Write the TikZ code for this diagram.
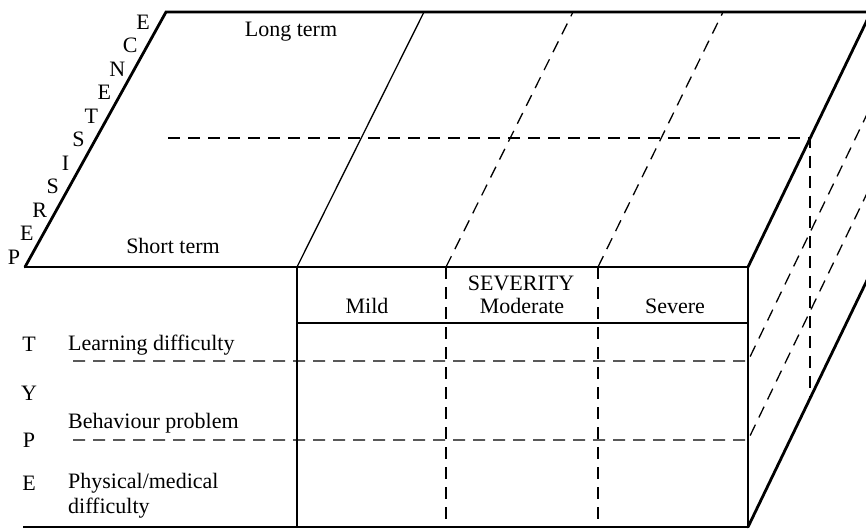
\documentclass[tikz,border=0pt]{standalone}
\usepackage{fontspec}
\setmainfont{Liberation Serif}
\usetikzlibrary{positioning}

\begin{document}
\begin{tikzpicture}[x=1pt, y=-1pt,
		txt/.style={font=\fontsize{22}{25}\selectfont, inner sep=0pt},
		rim/.style={line width=2.8pt, line cap=round},
		frame/.style={line width=1.8pt},
		rule/.style={line width=1.3pt},
		hidden/.style={line width=1.3pt, dash pattern=on 12pt off 8pt}
		]
		\useasboundingbox (0,0) rectangle (866,529);
		\clip (0,0) rectangle (866,529);
		
		% ── Corners of the block ──
		\coordinate (tl) at (166,12);
		\coordinate (tr) at (871,12);
		\coordinate (fl) at (25,267);
		\coordinate (fr) at (748,267);
		\coordinate (fb) at (748,527);
		\coordinate (rb) at (871,272);
		\coordinate (lb) at (23,527);
		
		% ── Front face: severity columns ──
		\coordinate (c0) at (297,267);
		\coordinate (c1) at (446,267);
		\coordinate (c2) at (598,267);
		\coordinate (c0b) at (297,527);
		\coordinate (c1b) at (446,527);
		\coordinate (c2b) at (598,527);
		\coordinate (hl) at (297,323);
		\coordinate (hr) at (748,323);
		
		% ── Type rows ──
		\coordinate (r1l) at (73,361);
		\coordinate (r1r) at (748,361);
		\coordinate (r2l) at (73,440);
		\coordinate (r2r) at (748,440);
		
		% Outline
		\draw[rim] (fl) -- (tl) -- (tr);
		\draw[rim] (fr) -- (tr);
		\draw[rim] (fb) -- (rb);
		\draw[frame] (fl) -- (fr) -- (fb) -- (lb);
		\draw[frame] (c0) -- (c0b);
		\draw[rule] (hl) -- (hr);
		
		% Columns carried over the top
		\draw[rule] (c0) -- ++(127,-255);
		\draw[hidden] (c1) -- ++(127,-255);
		\draw[hidden] (c2) -- ++(125,-255);
		\draw[hidden] (c1) -- (c1b);
		\draw[hidden] (c2) -- (c2b);
		
		% Rows carried round the side
		\draw[hidden] (r1l) -- (r1r) -- ++(123,-255);
		\draw[hidden] (r2l) -- (r2r) -- ++(123,-255);
		
		% Short/long term split
		\coordinate (mid) at (810,138);
		\draw[hidden] (168,138) -- (mid) -- (810,397);
		
		% Labels on top
		\node[txt, anchor=base] (long) at (291,37) {Long term};
		\node[txt, anchor=base] (short) at (173,253) {Short term};
		\foreach \l [count=\i from 0] in {P,E,R,S,I,S,T,E,N,C,E}
			\node[txt] (p\i) at ({14+12.9*\i},{257-23.5*\i}) {\l};
		
		% Labels on front
		\node[txt, anchor=base] (sev) at (521,290) {SEVERITY};
		\node[txt, anchor=base] (mild) at (367,313) {Mild};
		\node[txt, anchor=base] (mod) at (522,313) {Moderate};
		\node[txt, anchor=base] (sevr) at (675,313) {Severe};
		
		\node[txt, anchor=base west] (learn) at (68,350) {Learning difficulty};
		\node[txt, anchor=base west] (behav) at (68,428) {Behaviour problem};
		\node[txt, anchor=base west, align=left] (phys) at (68,513) {Physical/medical\\difficulty};
		
		\foreach \l/\y in {T/351,Y/400,P/447,E/490}
			\node[txt, anchor=base] (t\l) at (29,\y) {\l};
	\end{tikzpicture}
\end{document}
